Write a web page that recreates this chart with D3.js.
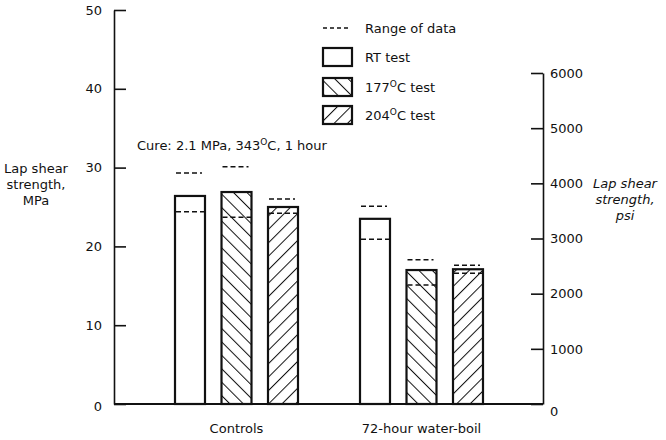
<!DOCTYPE html>
<html><head><meta charset="utf-8">
<script src="https://cdn.jsdelivr.net/npm/d3@7"></script>
<style>
body{margin:0;background:#fff;}
text{font-family:"DejaVu Sans",sans-serif;fill:#111;}
</style></head>
<body><svg id="c" width="666" height="440"></svg>
<script>
const groups = ["Controls", "72-hour water-boil"];
const series = ["RT test", "177\u00B0C test", "204\u00B0C test"];
const values = [[26.4, 26.9, 25.0], [23.5, 17.0, 17.1]];
const rangeHigh = [[29.3, 30.1, 26.0], [25.1, 18.3, 17.6]];
const rangeLow = [[24.4, 23.7, 24.2], [20.9, 15.1, 16.6]];
const mpaTicks = [0, 10, 20, 30, 40, 50];
const psiTicks = [0, 1000, 2000, 3000, 4000, 5000, 6000];

const svg = d3.select("#c");
const defs = svg.append("defs");
function hatch(id, angle) {
  const p = defs.append("pattern").attr("id", id).attr("patternUnits", "userSpaceOnUse")
    .attr("width", 9.5).attr("height", 9.5).attr("patternTransform", `rotate(${angle})`);
  p.append("rect").attr("width", 9.5).attr("height", 9.5).attr("fill", "#fff");
  p.append("line").attr("x1", 0).attr("y1", 0).attr("x2", 0).attr("y2", 9.5)
    .attr("stroke", "#111").attr("stroke-width", 2);
}
hatch("h177", -45);
hatch("h204", 45);
const fills = ["#fff", "url(#h177)", "url(#h204)"];

const y = d3.scaleLinear().domain([0, 50]).range([404, 10]);
const yPsi = d3.scaleLinear().domain([0, 6000]).range([404, 73]);
const x0 = d3.scaleBand().domain(groups).range([144, 514]);
const x1 = d3.scaleBand().domain(series).range([22.75, 162.25]).paddingInner(0.355).paddingOuter(0.1775);

// axes
const axL = svg.append("g").attr("transform", "translate(114,0)")
  .call(d3.axisLeft(y).tickValues(mpaTicks).tickSizeInner(-12).tickSizeOuter(0).tickPadding(12));
const axR = svg.append("g").attr("transform", "translate(543,0)")
  .call(d3.axisRight(yPsi).tickValues(psiTicks).tickFormat(d3.format("d")).tickSizeInner(-12).tickSizeOuter(0).tickPadding(7));
[axL, axR].forEach(a => {
  a.selectAll("path.domain").attr("stroke", "#111").attr("stroke-width", 1.6);
  a.selectAll(".tick line").attr("stroke", "#111").attr("stroke-width", 1.6);
  a.selectAll("text").style("font-family", "DejaVu Sans").style("font-size", "13px").attr("fill", "#111");
});
axL.select(".tick text").attr("dy", "0.5em");
axR.selectAll(".tick").filter(d => d === 0).select("text").attr("dy", "0.9em");

// baseline
svg.append("line").attr("x1", 114).attr("x2", 543).attr("y1", y(0)).attr("y2", y(0))
  .attr("stroke", "#111").attr("stroke-width", 2);

// bars
groups.forEach((g, gi) => {
  series.forEach((s, si) => {
    const bx = x0(g) + x1(s), bw = x1.bandwidth();
    svg.append("rect").attr("x", bx).attr("y", y(values[gi][si]))
      .attr("width", bw).attr("height", y(0) - y(values[gi][si]))
      .attr("fill", fills[si]).attr("stroke", "#111").attr("stroke-width", 2.2);
    svg.append("line").attr("x1", bx + 1).attr("x2", bx + bw - 3)
      .attr("y1", y(rangeHigh[gi][si])).attr("y2", y(rangeHigh[gi][si]))
      .attr("stroke", "#111").attr("stroke-width", 1.5).attr("stroke-dasharray", "5,3");
    svg.append("line").attr("x1", bx + 1).attr("x2", bx + bw)
      .attr("y1", y(rangeLow[gi][si])).attr("y2", y(rangeLow[gi][si]))
      .attr("stroke", "#111").attr("stroke-width", 1.5).attr("stroke-dasharray", "5,3");
  });
  svg.append("text").attr("x", x0(g) + x0.bandwidth() / 2).attr("y", 433)
    .attr("text-anchor", "middle").style("font-size", "13px").text(g);
});

// legend
const lg = svg.append("g");
lg.append("line").attr("x1", 323).attr("x2", 350).attr("y1", 28).attr("y2", 28)
  .attr("stroke", "#111").attr("stroke-width", 1.5).attr("stroke-dasharray", "4,3");
lg.append("text").attr("x", 365).attr("y", 33).style("font-size", "13px").text("Range of data");
const legY = [48, 78, 106];
const legLab = [["RT test", null, null], ["177", "O", "C test"], ["204", "O", "C test"]];
series.forEach((s, i) => {
  lg.append("rect").attr("x", 323).attr("y", legY[i]).attr("width", 29).attr("height", 18)
    .attr("fill", fills[i]).attr("stroke", "#111").attr("stroke-width", 2.2);
  const t = lg.append("text").attr("x", 365).attr("y", legY[i] + 14).style("font-size", "13px");
  t.append("tspan").text(legLab[i][0]);
  if (legLab[i][1]) {
    t.append("tspan").attr("dy", -5).style("font-size", "9px").text(legLab[i][1]);
    t.append("tspan").attr("dy", 5).text(legLab[i][2]);
  }
});

// annotation
const an = svg.append("text").attr("x", 137).attr("y", 150).style("font-size", "13px");
an.append("tspan").text("Cure: 2.1 MPa, 343");
an.append("tspan").attr("dy", -5).style("font-size", "9px").text("O");
an.append("tspan").attr("dy", 5).text("C, 1 hour");

// axis titles
const tl = svg.append("text").attr("text-anchor", "middle").style("font-size", "13px");
["Lap shear", "strength,", "MPa"].forEach((l, i) =>
  tl.append("tspan").attr("x", 36).attr("y", 173 + i * 16).text(l));
const tr = svg.append("text").attr("text-anchor", "middle").style("font-size", "13px").style("font-style", "italic");
["Lap shear", "strength,", "psi"].forEach((l, i) =>
  tr.append("tspan").attr("x", 625).attr("y", 188 + i * 16).text(l));
</script></body></html>
